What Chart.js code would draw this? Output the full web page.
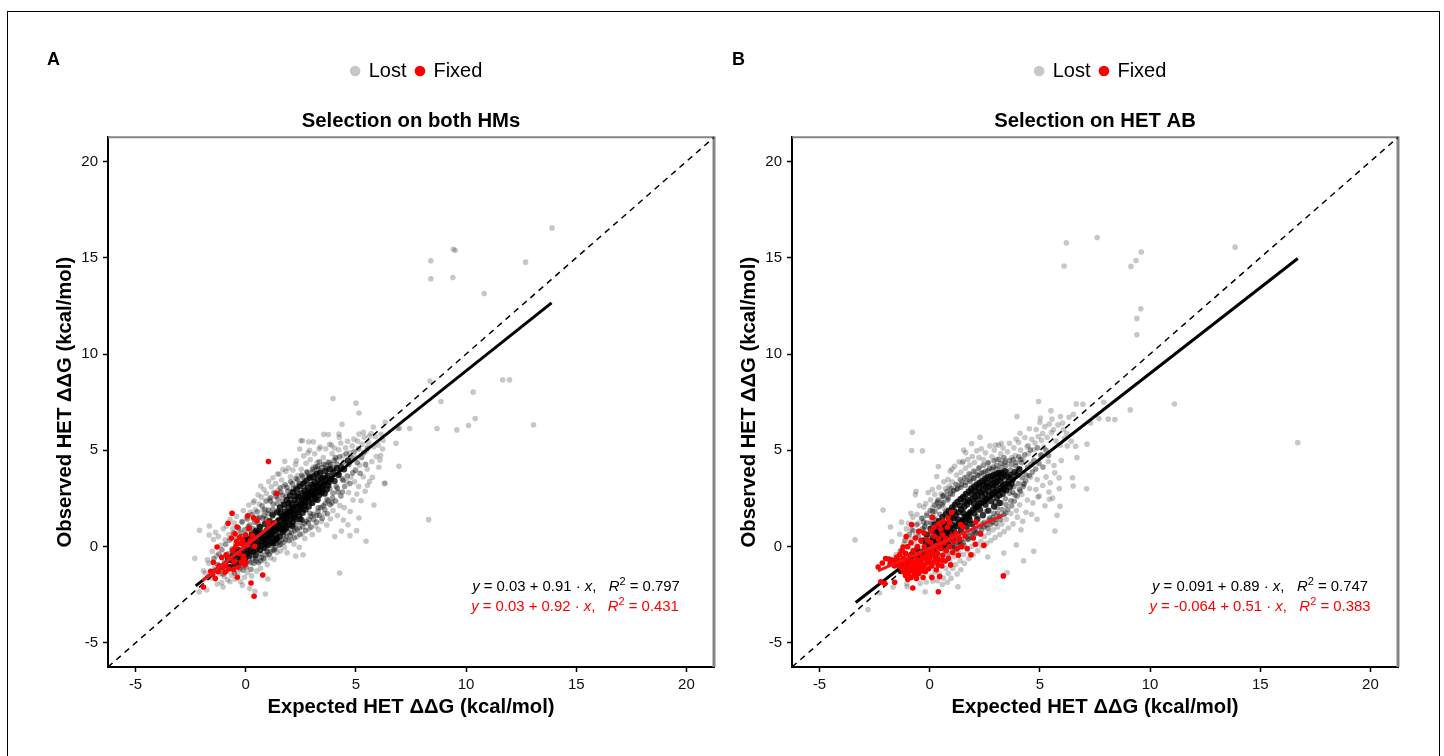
<!DOCTYPE html>
<html>
<head>
<meta charset="utf-8">
<script src="https://cdn.jsdelivr.net/npm/chart.js@4"></script>
<style>
  html, body { margin: 0; background: #fff; }
  body { width: 1444px; height: 756px; position: relative; overflow: hidden; font-family: "Liberation Sans", sans-serif; color: #000; }
  .frame { position: absolute; left: 7px; top: 11px; width: 1431px; height: 760px; border: 1px solid #000; }
  canvas { position: absolute; top: 40px; }
  #chartA { left: 50px; }
  #chartB { left: 734px; }
  .tag { position: absolute; top: 49px; font-size: 18px; font-weight: bold; }
  .eq { position: absolute; font-size: 14.9px; line-height: 16px; white-space: pre; transform: translateX(-50%); color: #000; }
  .eq.red { color: #f00; }
  .eq sup { font-size: 11px; line-height: 0; vertical-align: 6px; }
</style>
</head>
<body>
<div class="frame"></div>
<canvas id="chartA" width="674" height="680"></canvas>
<canvas id="chartB" width="674" height="680"></canvas>
<div class="tag" style="left:47px">A</div>
<div class="tag" style="left:732px">B</div>
<div class="eq" style="left:576px;top:578px"><i>y</i> = 0.03 + 0.91 · <i>x</i>,   <i>R</i><sup>2</sup> = 0.797</div>
<div class="eq red" style="left:575px;top:598px"><i>y</i> = 0.03 + 0.92 · <i>x</i>,   <i>R</i><sup>2</sup> = 0.431</div>
<div class="eq" style="left:1260px;top:578px"><i>y</i> = 0.091 + 0.89 · <i>x</i>,   <i>R</i><sup>2</sup> = 0.747</div>
<div class="eq red" style="left:1260px;top:598px"><i>y</i> = -0.064 + 0.51 · <i>x</i>,   <i>R</i><sup>2</sup> = 0.383</div>
<script>
const tickValues = [-5, 0, 5, 10, 15, 20];
const axisMin = -6.25;
const axisMax = 21.25;
const identityLine = [[-6.25, -6.25], [21.25, 21.25]];
const xTitle = "Expected HET ΔΔG (kcal/mol)";
const yTitle = "Observed HET ΔΔG (kcal/mol)";

// panel A
const fitLostA = [[-2.27, -2.04], [13.88, 12.66]];
const fitFixedA = [[-1.96, -1.77], [1.41, 1.33]];
const lostA = [
  [13.9,16.55],[9.42,15.44],[9.51,15.38],[8.4,14.84],[8.4,13.9],[9.4,13.97],[12.7,14.77],[10.82,13.14],[8.36,8.6],[11.66,8.66],[11.97,8.66],[10.32,8.02],[8.86,7.53],[10.41,6.65],[10.11,6.29],[13.06,6.32],[9.58,6.06],[8.68,6.13],[7.44,6.13],[6.91,6.13],[6.33,6.46],
  [3.96,7.69],[5,7.45],[5.14,6.94],[4.37,6.35],[5.79,6.21],[6.97,6.15],[3.54,5.83],[3.75,5.82],[4.23,5.85],[4.25,5.68],[2.5,5.5],[2.58,5.5],[2.86,5.44],[3.07,5.44],[2.45,5.07],[2.9,5],[3.33,5.07],[3.89,5.28],[5.34,5.94],[5.14,5.85],[5.6,5.73],[6.95,4.17],[6.82,5.37],[6.21,5.07],[6.12,4.73],[6.09,4.5],[1.77,4.43],[2.3,4.45],[1.44,3.77],[1.69,4],[0.68,3.15],[6.3,3.27],[6.32,3.3],[5.75,3.6],[5.52,3.17],[5.82,2.16],[5.14,1.49],[4.64,1.13],[5.03,0.83],[4.73,0.57],[5.46,0.28],[8.3,1.4],[4.26,-1.37],[2.6,-0.42],[2.27,-0.49],[0.35,2.29],[-2.1,0.85],[-1.65,1.07],[-1.66,0.6],[-2.31,-0.6],[-1.92,-1.25],[-1.74,-0.68],[-2.11,-2.35],[-1.77,-2.25],[-1.03,-2.1],[-0.15,-2],[0.18,-2.18],[0.42,-2.32],[0.89,-2.46],[1,-1.68],[-0.71,-1.82],
  [-1.83,-1.37],[-1.68,-0.86],[-1.57,-1.63],[-1.52,-0.24],[-1.46,0.37],[-1.41,-1.08],[-1.37,0.74],[-1.33,-0.47],[-1.29,-1.94],[-1.24,0.52],[-1.18,-1.41],[-1.13,0.08],[-1.09,-1.87],[-1.02,0.93],[-0.97,-1.56],[-0.93,0.36],[-0.88,1.07],[-0.82,-1.72],[-0.76,0.63],[-0.71,1.42],[-0.64,-1.48],[-0.58,0.94],[-0.53,1.23],[-0.47,-1.69],[-0.42,1.58],[-0.36,-1.38],[-0.29,0.91],[-0.23,-1.81],[-0.18,1.31],[-0.11,1.87],[-0.06,-1.59],[0.03,1.52],[0.08,-1.36],[0.14,2.16],[0.21,1.79],[0.27,-1.52],[0.33,1.43],[0.38,2.38],[0.44,1.92],[0.49,-1.27],[0.56,2.69],[0.61,2.21],[0.67,-1.12],[0.72,2.57],[0.78,1.88],[0.83,2.97],[0.86,-0.73],[0.94,2.76],[0.98,-0.94],[1.04,3.38],[1.07,2.47],[1.12,-0.58],[1.16,3.11],[1.23,3.58],[1.27,2.82],[1.29,-0.66],[1.36,3.27],[1.41,-0.31],[1.47,2.93],[1.52,3.77],[1.58,-0.23],[1.63,3.46],[1.71,3.12],[1.76,-0.04],[1.82,3.91],[1.88,-0.32],[1.93,4.08],[2.03,3.63],[2.07,0.37],[2.14,3.98],[2.19,0.13],[2.26,4.27],[2.33,0.52],[2.37,3.69],[2.43,-0.03],[2.52,4.02],[2.57,0.68],[2.63,4.71],[2.68,0.42],[2.74,4.33],[2.82,4.87],[2.87,0.91],[2.93,4.52],[3.02,0.63],[3.06,4.13],[3.13,4.82],[3.18,1.07],[3.24,4.36],[3.31,0.88],[3.38,5.17],[3.43,1.31],[3.52,4.62],[3.57,1.72],[3.63,5.08],[3.68,1.12],[3.73,4.41],[3.81,5.31],[3.84,1.43],[3.92,4.83],[3.96,1.87],[4.02,5.12],[4.04,0.52],[4.12,4.53],[4.16,1.62],[4.22,5.03],[4.27,2.13],[4.31,5.38],[4.34,0.81],[4.41,4.72],[4.43,1.38],[4.47,2.02],[4.53,5.13],[4.58,3.38],[4.62,5.47],[4.67,2.81],[4.71,4.88],[4.74,1.82],[4.78,3.62],[4.83,5.23],[4.87,2.42],[4.91,5.58],[4.94,3.37],[5.02,4.62],[5.04,2.73],[5.08,5.48],[5.13,3.12],[5.17,4.23],[5.23,2.38],[5.28,5.31],[5.33,3.63],[5.38,5.68],[5.42,2.87],[5.47,4.98],[5.51,4.03],[5.58,5.41],[5.62,3.38],[5.69,5.87],[5.72,4.42],[5.81,5.18],[5.88,5.72],[5.92,4.68],[6.02,5.28],[6.04,4.12],[6.14,5.83],[6.23,5.52]
];
const lostMidA = [
  [-1.52,-1.31],[-1.44,-0.62],[-1.38,-1.22],[-1.27,-0.93],[-1.22,-0.38],[-1.16,-1.17],[-1.08,-0.16],[-1.03,-1.42],[-0.96,-0.82],[-0.91,0.12],[-0.86,-1.28],[-0.79,-0.37],[-0.73,0.34],[-0.68,-1.04],[-0.62,-0.12],[-0.56,0.71],[-0.51,-1.37],[-0.44,0.18],[-0.39,-0.92],[-0.33,0.97],[-0.27,-1.14],[-0.21,0.52],[-0.16,1.28],[-0.12,-1.23],[-0.04,0.87],[0.02,-1.07],[0.07,1.44],[0.13,-0.74],[0.18,1.12],[0.24,-1.18],[0.29,1.66],[0.36,-0.86],[0.41,1.27],[0.46,-0.63],[0.52,1.81],[0.58,-0.84],[0.63,1.52],[0.69,-0.37],[0.74,2.12],[0.81,-0.61],[0.84,1.63],[0.92,2.37],[0.96,-0.17],[1.03,1.88],[1.06,-0.41],[1.13,2.54],[1.18,0.08],[1.24,2.21],[1.31,-0.16],[1.34,2.78],[1.39,0.18],[1.46,2.48],[1.53,0.07],[1.57,3.06],[1.62,0.36],[1.67,2.67],[1.73,0.23],[1.79,3.21],[1.84,0.52],[1.91,2.88],[1.97,0.31],[2.04,3.37],[2.09,0.72],[2.16,3.02],[2.21,0.46],[2.28,3.54],[2.34,0.88],[2.39,3.18],[2.46,0.63],[2.54,3.71],[2.59,1.03],[2.64,3.32],[2.72,0.84],[2.77,3.88],[2.84,1.22],[2.89,3.56],[2.96,1.02],[3.03,4.02],[3.08,1.41],[3.14,3.72],[3.21,1.28],[3.27,4.17],[3.34,1.63],[3.41,3.91],[3.47,1.47],[3.53,4.28],[3.59,1.93],[3.66,4.06],[3.71,1.71],[3.78,4.36],[3.83,2.18],[3.89,4.12],[3.94,2.52],[4.01,4.47],[4.08,2.37],[4.14,4.27],[4.19,2.84],[4.26,4.67],[4.32,2.63],[4.38,3.52],[4.44,4.38],[4.49,3.12],[4.56,4.82],[4.61,3.67],[4.68,4.27],[4.73,3.28],[4.81,4.63],[4.86,3.83],[4.92,4.92],[4.98,3.97],[5.06,4.37],[5.12,5.08],[5.19,3.81],[5.26,4.63],[5.36,4.88],[5.44,4.27],[5.53,5.12],[-0.34,-0.47],[-0.08,-0.31],[0.17,0.87],[0.31,0.42],[0.43,-0.17],[0.57,0.81],[0.68,1.02],[0.82,0.14],[0.93,1.43],[1.09,0.27],[1.21,1.57],[1.33,0.42],[1.48,1.88],[1.61,0.71],[1.77,2.17],[1.92,0.96],[2.06,2.48],[2.24,1.12],[2.41,2.73],[2.57,1.37],[2.73,2.96],[2.92,1.73],[3.11,3.23],[3.29,2.02],[3.48,3.37],[3.69,2.46],[3.87,3.47],[4.11,3.12],[4.24,3.78],[4.42,3.43],[1.17,0.61],[1.74,1.24],[2.17,1.67],[2.62,1.92],[3.01,2.31],[3.44,2.73],[3.81,3.02],[0.76,0.43],[0.36,0.11],[0.03,-0.23],
  [0.11,1.03],[0.32,0.94],[0.57,1.18],[0.78,1.47],[1.01,1.72],[1.23,1.94],[1.43,2.23],[1.66,2.37],[1.83,2.61],[2.06,2.84],[2.27,3.07],[2.44,3.28],[2.67,3.41],[2.85,3.67],[3.04,3.88],[3.26,4.03],[3.45,4.11],[3.64,4.23],[3.86,4.27],[4.07,4.63],[0.22,-0.84],[0.46,-0.74],[0.71,-0.57],[0.92,-0.43],[1.14,-0.27],[1.35,-0.06],[1.59,0.13],[1.81,0.37],[2.01,0.58],[2.22,0.82],[2.43,0.97],[2.65,1.21],[2.87,1.42],[3.07,1.68],[3.28,1.84],[3.52,2.12],[3.74,2.37],[3.96,2.78],[4.16,3.03],[4.39,2.84],[-0.63,-0.74],[-0.42,0.42],[-0.22,0.72],[-0.13,-0.98],[0.32,-0.62],[0.53,1.47],[0.87,1.92],[1.12,2.37],[1.37,2.62],[1.59,2.83],[1.88,3.07],[2.12,3.27],[2.36,3.46],[2.59,3.62],[2.81,3.83],[3.17,4.13],[3.34,4.41],[0.67,-0.73],[0.98,-0.27],[1.24,-0.18],[1.49,0.24],[1.72,0.62],[1.96,0.74],[2.18,0.98],[2.46,1.27],[2.74,1.31],[2.97,1.58],[3.22,1.62],[3.41,2.03],[3.61,2.24],[3.91,2.27]
];
const lostCoreA = [
  [-0.92,-0.97],[-0.81,-0.58],[-0.74,-1.07],[-0.66,-0.71],[-0.57,-0.43],[-0.49,-0.92],[-0.41,-0.57],[-0.31,-0.18],[-0.26,-0.83],[-0.17,-0.36],[-0.09,0.13],[-0.03,-0.62],[0.06,-0.14],[0.12,0.41],[0.16,-0.47],[0.23,0.07],[0.28,0.63],[0.34,-0.27],[0.39,0.26],[0.45,-0.43],[0.48,0.83],[0.54,0.03],[0.59,0.47],[0.64,1.02],[0.66,-0.18],[0.71,0.26],[0.77,0.72],[0.83,-0.06],[0.87,1.18],[0.91,0.41],[0.97,0.87],[1.01,0.08],[1.08,1.32],[1.11,0.57],[1.14,1.02],[1.19,0.24],[1.22,1.66],[1.26,0.78],[1.32,1.21],[1.37,0.36],[1.42,1.78],[1.44,0.93],[1.49,1.37],[1.54,0.52],[1.56,2.03],[1.59,1.12],[1.64,1.58],[1.69,0.77],[1.72,2.18],[1.74,1.31],[1.78,1.82],[1.83,0.98],[1.86,2.42],[1.89,1.47],[1.94,2.02],[1.98,1.14],[2.01,2.63],[2.05,1.63],[2.08,2.21],[2.12,1.27],[2.15,2.82],[2.18,1.88],[2.22,2.42],[2.27,1.42],[2.31,2.97],[2.35,2.07],[2.38,2.58],[2.42,1.58],[2.47,3.13],[2.51,2.21],[2.53,2.77],[2.58,1.76],[2.61,3.27],[2.65,2.38],[2.67,2.92],[2.71,1.93],[2.76,3.42],[2.79,2.57],[2.83,3.08],[2.86,2.08],[2.91,3.58],[2.94,2.72],[2.98,3.21],[3.02,2.27],[3.05,3.63],[3.09,2.87],[3.12,3.36],[3.16,2.47],[3.22,3.77],[3.25,3.03],[3.28,3.48],[3.32,2.66],[3.37,3.82],[3.42,3.12],[3.46,2.83],[3.51,3.58],[3.56,3.23],[3.61,3.93],[3.67,2.97],[3.72,3.68],[3.77,3.34],[3.82,4.02],[3.88,3.52],[3.97,3.82],[4.03,3.41],[4.13,4.07],[4.21,3.72],[4.33,4.12],[4.46,4.02],[4.64,4.47],[0.04,0.31],[0.22,-0.21],[0.37,0.58],[0.52,0.18],[0.62,0.69],[0.73,0.04],[0.86,0.56],[0.99,0.34],[1.06,0.82],[1.17,0.46],[1.28,1.03],[1.39,0.63],[1.47,1.13],[1.61,0.89],[1.71,1.47],[1.81,1.23],[1.93,1.72],[2.02,1.41],[2.13,1.97],[2.23,1.68],[2.33,2.26],[2.44,1.92],[2.56,2.48],[2.66,2.12],[2.78,2.73],[2.88,2.37],[3,2.91],[3.11,2.58],[3.23,3.17],[3.35,2.88],[3.49,3.02],[3.62,3.47],[3.74,3.18],[0.44,0.74],[0.69,0.51],[0.92,0.13],[1.13,0.72],[1.34,0.86],[1.52,1.02],[1.68,1.08],[1.87,1.58],[2.03,1.83],[2.19,1.52],[2.36,1.78],[2.52,2.06],[2.69,2.28],[2.84,2.52],[3.03,2.68],[3.19,2.79],[3.38,3.27],[-0.47,-0.12],[-0.21,-0.58],[-0.02,0.37],[0.09,-0.38],[0.26,0.34],[0.49,-0.13],[0.79,0.32],[1.04,0.58],[1.25,0.17],[1.41,0.42],[1.58,1.73],[1.76,0.89],[1.96,2.27],[2.11,1.08],[2.29,2.63],[2.49,1.43],[2.68,2.67],[2.87,2.83],[3.07,3.11],[3.26,2.43],[3.43,3.53],[3.58,2.76]
];
const fixedA = [
  [1.03,4.42],[1.42,2.75],[-0.62,1.73],[0.09,1.6],[0.36,1.5],[-0.8,1.21],[0.51,1.35],[1.01,1.26],[-0.39,1.02],[0.14,0.95],[0,0.62],[-0.48,0.67],[-0.65,0.45],[-0.27,0.49],[0.3,0.57],[-1.3,-0.02],[-0.07,0.14],[0.41,0.02],[0.08,0.09],[-0.41,0.26],[-0.89,-0.42],[-0.1,-0.5],[-1.09,-0.56],[-0.53,-0.78],[-0.04,-0.94],[-1.47,-0.81],[-0.35,-1.07],[-1.59,-1.28],[-0.94,-1.32],[-0.76,-1.16],[-1.21,-0.99],[-0.38,-1.59],[-1.38,-1.66],[-1.92,-2.1],[0.24,-1.89],[0.77,-1.47],[0.38,-2.58],[-0.08,-0.65],[0,-0.85],[-0.6,-0.2],[-0.25,0.15],[-0.75,-0.6],[-0.3,-0.35],[-0.9,-0.95],[-1.05,-1.1],[-0.55,-1.2],[-0.2,-0.8],[-0.15,0.35],[-0.45,0],[0.2,0.3],[-1.25,-1.3],[-1.5,-1.45]
];

// panel B
const fitLostB = [[-3.36, -2.9], [16.7, 14.96]];
const fitFixedB = [[-2.34, -1.26], [3.34, 1.64]];
const lostB = [
  [13.86,15.55],[9.6,15.3],[9.36,14.85],[9.13,14.55],[6.2,15.77],[7.6,16.05],[6.1,14.57],[9.58,12.35],[9.4,11.85],[9.4,11],[11.1,7.4],[9.1,7.1],[16.7,5.4],[7.9,7.5],[8.4,6.6],[8.1,6.62],
  [4.94,7.53],[3.96,6.75],[6.65,7.41],[6.95,7.39],[5.5,7.06],[5.55,6.63],[5.93,6.75],[5,6.46],[7.68,6.65],[7.3,6.42],[-0.79,5.94],[-0.82,4.99],[-0.33,4.97],[4.1,5.89],[3.92,5.59],[4.47,5.25],[2.28,5.68],[1.9,5.35],[1.54,5.02],[1.63,4.88],[2.98,5.28],[3.25,5.37],[7.14,5.32],[6.62,5.21],[6.68,4.62],[6.24,5.23],[1.48,4.35],[0.39,4.16],[1.01,4.03],[0.32,3.64],[6.48,3.58],[6.51,3.15],[7.12,3],[5.87,3.57],[5.64,4.21],[-0.62,2.87],[-0.65,2.7],[-2.12,1.9],[-0.86,1.73],[-0.27,2.06],[-1.78,1.02],[-3.39,0.35],[5.91,2.1],[5.43,2.46],[4.91,2.58],[5.68,0.81],[4.72,-0.24],[4.26,-0.74],[3.51,-1.35],[2.63,-0.54],[3.93,0.09],[3.36,-0.33],[-2.8,-3.27],[-0.21,-2.35],[1.28,-2.08],[0.57,-1.96],[0.8,-1.85],[0.35,-1.77],[1.41,-1.2],[-2.28,-2.41],[-1.66,-2.1],[-1.03,-2.08],
  [-1.72,0.27],[-1.53,-0.41],[-1.36,0.64],[-1.28,1.27],[-1.17,0.13],[-1.06,0.92],[-0.97,1.21],[-1.04,-1.93],[-0.88,0.42],[-0.77,1.53],[-0.83,0.87],[-0.69,0.16],[-0.58,1.68],[-0.63,0.62],[-0.47,2.13],[-0.52,1.22],[-0.38,0.34],[-0.43,-1.92],[-0.31,1.47],[-0.26,0.83],[-0.18,2.24],[-0.22,1.08],[-0.16,-1.84],[-0.07,2.81],[-0.12,1.72],[0.04,2.43],[0.03,1.28],[0.07,-1.53],[0.12,2.97],[0.14,2.03],[0.13,-1.78],[0.23,2.71],[0.18,1.57],[0.24,-1.31],[0.31,2.27],[0.28,1.42],[0.42,3.08],[0.37,2.04],[0.44,-1.43],[0.52,2.73],[0.47,-0.92],[0.64,3.37],[0.57,2.42],[0.61,-1.63],[0.72,3.02],[0.67,1.97],[0.73,-1.12],[0.83,3.48],[0.78,2.61],[0.84,-1.38],[0.93,3.92],[0.88,3.13],[0.91,-0.73],[1.02,3.37],[1.04,-1.13],[0.97,-1.64],[1.13,4.17],[1.07,2.93],[1.12,-0.52],[1.22,3.72],[1.18,-0.93],[1.24,-1.42],[1.33,4.41],[1.28,3.17],[1.31,-0.32],[1.42,3.87],[1.38,-0.73],[1.52,4.43],[1.46,3.38],[1.53,-0.41],[1.62,4.07],[1.58,-0.87],[1.73,4.52],[1.67,3.62],[1.71,-0.17],[1.82,4.23],[1.78,-0.62],[1.93,4.68],[1.87,3.73],[1.91,0.02],[2.03,4.37],[1.97,-0.43],[2.13,4.97],[2.08,3.87],[2.12,0.13],[2.23,4.62],[2.18,-0.22],[2.34,5.08],[2.27,4.12],[2.32,0.28],[2.43,4.52],[2.37,0.03],[2.53,4.87],[2.48,0.53],[2.62,4.32],[2.58,0.17],[2.73,5.23],[2.68,0.72],[2.82,4.67],[2.78,0.32],[2.93,5.02],[2.87,0.87],[3.03,4.53],[2.97,0.47],[3.13,5.28],[3.07,1.02],[3.22,4.82],[3.18,0.63],[3.33,5.12],[3.27,1.18],[3.42,4.47],[3.38,0.78],[3.53,4.93],[3.47,1.42],[3.62,5.37],[3.57,0.97],[3.73,4.62],[3.68,1.72],[3.82,5.13],[3.78,1.18],[3.88,4.73],[3.93,1.87],[4.03,5.42],[3.98,1.53],[4.12,5.02],[4.08,2.17],[4.14,0.88],[4.23,4.52],[4.18,2.72],[4.22,1.32],[4.32,5.67],[4.28,3.23],[4.42,5.18],[4.37,1.78],[4.43,2.42],[4.52,6.12],[4.48,4.83],[4.53,3.02],[4.63,5.57],[4.58,3.62],[4.62,1.68],[4.72,5.03],[4.68,2.27],[4.83,6.08],[4.78,5.38],[4.82,2.97],[4.92,5.72],[4.88,3.48],[4.87,1.42],[5.03,4.72],[4.97,2.63],[5.02,6.68],[5.12,5.87],[5.07,5.52],[5.13,3.17],[5.22,6.23],[5.18,5.17],[5.23,2.12],[5.33,5.68],[5.28,3.62],[5.42,6.37],[5.38,4.42],[5.41,2.83],[5.52,5.92],[5.47,3.32],[5.62,6.07],[5.58,2.52],[5.73,5.48],[5.67,3.83],[5.82,6.32],[5.78,1.63],[5.92,5.27],[5.88,3.02],[6.03,6.42],[5.97,4.47],[6.12,5.63],[6.07,6.08],[6.22,5.87],[6.32,6.72],[6.42,5.47],[6.52,6.87]
];
const lostMidB = [
  [-1.42,-0.93],[-1.33,-0.22],[-1.19,-1.24],[-1.12,0.32],[-1.01,-0.47],[-0.93,0.64],[-0.84,-1.02],[-0.76,0.84],[-0.67,-0.37],[-0.59,1.13],[-0.53,-0.82],[-0.46,0.78],[-0.37,1.47],[-0.28,-0.42],[-0.23,1.02],[-0.14,1.63],[-0.06,-0.66],[0.02,1.87],[0.09,1.21],[0.16,-0.73],[0.21,2.16],[0.27,1.37],[0.33,-0.54],[0.38,2.42],[0.46,1.68],[0.51,-0.47],[0.56,2.18],[0.63,2.67],[0.68,-0.23],[0.74,1.83],[0.81,2.42],[0.86,-0.36],[0.94,2.76],[0.98,1.93],[1.03,-0.09],[1.09,2.91],[1.16,2.27],[1.21,-0.14],[1.27,3.02],[1.34,2.43],[1.39,0.13],[1.44,3.21],[1.51,2.58],[1.56,0.06],[1.63,3.33],[1.68,2.74],[1.74,0.37],[1.81,3.48],[1.86,2.88],[1.92,0.46],[1.99,3.57],[2.04,2.97],[2.09,0.68],[2.16,3.72],[2.21,3.13],[2.28,0.71],[2.33,3.82],[2.41,3.21],[2.46,1.03],[2.52,3.91],[2.57,3.37],[2.64,0.96],[2.71,4.07],[2.76,3.48],[2.83,1.27],[2.88,4.13],[2.94,3.56],[2.99,1.42],[3.04,4.21],[3.11,3.68],[3.16,1.58],[3.23,4.33],[3.29,3.77],[3.36,1.67],[3.41,4.37],[3.48,3.88],[3.54,1.93],[3.61,4.47],[3.67,3.97],[3.72,2.12],[3.79,4.52],[3.84,2.37],[3.91,4.18],[3.97,2.63],[4.04,4.67],[4.11,2.87],[4.17,4.37],[4.24,3.12],[4.31,4.77],[4.36,3.42],[4.44,4.12],[4.51,3.68],[4.57,5.02],[4.66,3.87],[4.73,4.47],[4.81,4.03],[4.89,5.13],[4.96,4.32],[5.06,4.77],[5.14,4.13],[5.27,5.02],[5.39,4.73],[-0.71,-0.62],[-0.44,-0.28],[-0.19,0.42],[0.06,0.72],[0.31,-0.12],[0.49,1.07],[0.66,0.23],[0.83,0.62],[1.01,0.02],[1.18,1.37],[1.36,0.28],[1.53,1.62],[1.69,0.52],[1.84,1.82],[2.01,0.83],[2.19,2.23],[2.37,1.17],[2.54,2.36],[2.73,1.48],[2.91,1.73],[3.06,2.02],[3.24,2.27],[3.43,2.48],[3.63,2.77],[3.82,3.12],[4.02,3.27],[4.19,3.58],[4.38,3.72],[4.61,4.27],[0.41,0.37],[0.89,0.92],[1.31,1.14],[1.72,1.37],[2.13,1.58],[2.56,1.82],[2.97,2.27],[3.38,3.13],[3.77,2.82],
  [-0.52,0.52],[-0.33,0.93],[-0.14,1.23],[0.07,1.53],[0.24,1.82],[0.43,2.08],[0.61,2.27],[0.84,2.53],[1.03,2.72],[1.22,2.97],[1.41,3.08],[1.62,3.17],[1.83,3.38],[2.01,3.53],[2.23,3.68],[2.42,3.83],[2.64,3.94],[2.84,4.02],[3.06,4.03],[3.27,4.12],[3.46,4.21],[3.71,4.27],[3.92,4.37],[4.13,4.53],[-0.87,-0.63],[-0.62,-0.42],[-0.42,-0.23],[-0.18,-0.13],[0.04,-0.36],[0.26,-0.27],[0.47,-0.08],[0.68,0.08],[0.87,0.27],[1.07,0.14],[1.26,0.23],[1.46,0.37],[1.68,0.68],[1.88,0.72],[2.07,0.93],[2.27,1.03],[2.48,1.26],[2.69,1.38],[2.88,1.52],[3.08,1.73],[3.28,1.93],[3.47,2.17],[3.68,2.38],[3.87,2.68],[4.07,2.97],[4.27,3.27],[-0.27,1.27],[0.13,1.83],[0.36,2.32],[0.58,2.62],[0.79,2.87],[0.97,3.03],[1.19,3.23],[1.39,3.47],[1.59,3.57],[1.79,3.78],[2,3.92],[2.22,4.07],[2.44,4.23],[2.66,4.37],[2.92,4.46],[3.14,4.54],[3.37,4.63],[1.13,-0.02],[1.32,0.08],[1.52,0.22],[1.73,0.41],[1.93,0.57],[2.14,0.72],[2.36,0.87],[2.57,1.12],[2.78,1.17],[3.01,1.22],[3.21,1.41],[3.44,1.74]
];
const lostCoreB = [
  [-1.31,-1.27],[-1.13,-0.83],[-0.96,-1.02],[-0.82,-0.41],[-0.71,-0.93],[-0.57,-0.12],[-0.48,-0.64],[-0.34,0.31],[-0.24,-0.37],[-0.13,0.62],[-0.07,-0.08],[0.04,0.93],[0.11,0.28],[0.17,-0.22],[0.22,1.14],[0.29,0.58],[0.36,0.07],[0.42,1.32],[0.47,0.77],[0.53,0.21],[0.58,1.53],[0.62,0.94],[0.69,0.39],[0.73,1.68],[0.79,1.13],[0.84,0.57],[0.87,1.87],[0.92,1.34],[0.96,0.73],[1.02,2.04],[1.06,1.48],[1.09,0.91],[1.14,2.17],[1.17,1.63],[1.23,1.07],[1.26,2.32],[1.31,1.78],[1.35,1.22],[1.41,2.47],[1.43,1.93],[1.48,1.36],[1.52,2.58],[1.57,2.07],[1.61,1.52],[1.64,2.73],[1.69,2.19],[1.73,1.66],[1.77,2.87],[1.82,2.33],[1.84,1.78],[1.89,3.02],[1.94,2.47],[1.97,1.93],[2.02,3.12],[2.06,2.58],[2.09,2.03],[2.14,3.23],[2.18,2.71],[2.22,2.13],[2.26,3.32],[2.31,2.83],[2.34,2.27],[2.38,3.41],[2.42,2.94],[2.47,2.37],[2.51,3.53],[2.55,3.07],[2.58,2.48],[2.63,3.62],[2.67,3.13],[2.72,2.62],[2.77,3.66],[2.81,3.21],[2.84,2.72],[2.89,3.72],[2.93,3.31],[2.97,2.83],[3.02,3.78],[3.06,3.37],[3.09,2.91],[3.14,3.82],[3.19,3.43],[3.24,3.03],[3.28,3.58],[3.33,3.18],[3.39,3.71],[3.44,3.27],[3.52,3.63],[3.58,3.38],[3.68,3.72],[3.76,3.47],[3.86,3.87],[3.96,3.72],[4.07,4.02],[0.14,0.46],[0.37,0.92],[0.52,0.47],[0.67,1.22],[0.77,0.69],[0.91,0.48],[1.04,1.12],[1.16,0.67],[1.29,1.41],[1.42,0.84],[1.54,1.74],[1.67,1.03],[1.79,1.57],[1.92,1.17],[2.03,1.73],[2.16,1.43],[2.28,1.92],[2.41,1.63],[2.53,2.18],[2.66,1.87],[2.79,2.36],[2.92,2.08],[3.04,2.53],[3.17,2.27],[3.31,2.74],[3.47,2.93],[3.63,3.08],[3.71,3.27],[0.62,-0.03],[0.83,0.12],[1.08,0.38],[1.27,0.62],[1.46,1.07],[1.63,1.27],[1.81,1.37],[2.01,2.23],[2.19,2.42],[2.36,2.63],[2.52,2.74],[2.68,2.88],[2.87,3.03],[3.01,3.17],[3.16,2.67],[3.36,2.97],[-0.17,0.21],[0.08,-0.03],[0.26,0.76],[0.44,0.12],[0.72,0.93],[0.94,1.57],[1.12,1.84],[1.37,2.13],[1.58,2.33],[1.74,2.42],[1.91,2.73],[2.07,2.88],[2.24,3.03],[2.44,3.22],[2.61,3.31],[2.83,3.47],[3.08,3.58],[3.26,3.84],[3.42,3.92]
];
const fixedB = [
  [3.34,-1.52],[0.39,-2.34],[-0.77,-2.15],[-1.59,-1.85],[-2.04,-1.92],[-2.22,-1.82],[-2.34,-1.06],[-2.15,-0.85],[-2,-0.62],[-0.82,1.14],[0.12,1.52],[0.83,1.5],[1,1.78],[0.41,1.18],[0.5,0.9],[1.51,1.02],[2.09,1.26],[2.31,0.66],[2.46,0.07],[2.07,0.12],[1.87,-0.42],[1.3,-0.45],[1.98,0.45],[-1.07,0.52],[-0.5,0.8],[-0.26,0.71],[0.06,0.8],[-1.21,-0.02],
  [-1.85,-0.65],[-1.8,-0.9],[-1.7,-0.7],[-1.6,-1],[-1.55,-0.75],[-1.5,-0.55],[-1.45,-0.95],[-1.4,-0.7],[-1.35,-0.4],[-1.3,-1.1],[-1.3,-0.8],[-1.25,-0.2],[-1.2,-1.3],[-1.2,-0.6],[-1.15,-0.9],[-1.1,-1.5],[-1.1,-0.35],[-1.05,-1.2],[-1,-0.7],[-1,-1.7],[-1,0],[-0.95,-1.4],[-0.9,-0.45],[-0.9,-1],[-0.85,-1.6],[-0.85,0.2],[-0.8,-0.75],[-0.8,-1.25],[-0.75,-0.2],[-0.7,-1.5],[-0.7,-0.95],[-0.65,-0.5],[-0.65,0.45],[-0.6,-1.2],[-0.6,-1.65],[-0.55,-0.7],[-0.55,0],[-0.5,-1],[-0.5,-1.4],[-0.45,-0.35],[-0.4,-0.85],[-0.4,0.3],[-0.35,-1.25],[-0.3,-0.55],[-0.3,-1.6],[-0.25,0],[-0.2,-0.9],[-0.2,-1.3],[-0.15,-0.4],[-0.1,0.35],[-0.1,-0.75],[-0.05,-1.15],[0,-0.25],[0,-0.6],[0.05,0.2],[0.1,-1],[0.1,-1.6],[0.15,-0.45],[0.2,0.55],[0.2,-0.8],[0.25,0],[0.3,-1.2],[0.35,-0.35],[0.4,0.4],[0.4,-0.7],[0.45,-1.55],[0.5,-0.1],[0.55,-1],[0.6,0.6],[0.6,-0.45],[0.65,0.2],[0.7,-0.75],[0.75,-0.2],[0.8,1],[0.8,0.35],[0.85,-0.6],[0.9,0],[0.95,-0.95],[1,0.55],[1.05,-0.3],[1.1,0.25],[1.2,0.7],[1.25,-0.1],[1.35,0.4],[1.4,1.15],[1.45,0],[1.6,0.55],[1.7,-0.1],[0.6,1.3],[0.2,1],[0.9,1.25],
  [-1.32,-0.97],[-1.18,-0.74],[-1.07,-1.03],[-0.97,-1.28],[-0.87,-0.82],[-0.76,-1.08],[-0.68,-1.36],[-0.58,-0.93],[-0.47,-1.17],[-0.37,-0.68],[-0.27,-1.07],[-0.17,-0.62],[-0.06,-0.43],[0.03,-0.87],[0.13,-0.17],[0.27,-0.58],[0.38,-0.96],[0.48,0.14],[0.58,-0.72],[0.73,0.42]
];

const pts = (list) => list.map(([x, y]) => ({ x, y }));

// gray top and right edges of the panel, legend nudged off the plot centre
const panelEdges = {
  id: "panelEdges",
  afterLayout(chart) {
    chart.legend.left += 6;
    chart.legend.right += 6;
    chart.legend.top += 1;
    chart.legend.bottom += 1;
  },
  beforeDatasetsDraw(chart) {
    const { ctx, chartArea: a } = chart;
    ctx.save();
    ctx.strokeStyle = "#858585";
    ctx.lineWidth = 2;
    ctx.beginPath();
    ctx.moveTo(a.left, a.top);
    ctx.lineTo(a.right, a.top);
    ctx.stroke();
    ctx.lineWidth = 3;
    ctx.beginPath();
    ctx.moveTo(a.right, a.top - 1);
    ctx.lineTo(a.right, a.bottom);
    ctx.stroke();
    ctx.restore();
  },
};

function axis(titleText, isX) {
  return {
    type: "linear",
    min: axisMin,
    max: axisMax,
    grid: { display: true, drawOnChartArea: false, drawTicks: true, tickLength: 5, tickColor: "#000", tickWidth: 1.5 },
    border: { display: true, color: "#000", width: 2 },
    afterBuildTicks: (s) => { s.ticks = tickValues.map((v) => ({ value: v })); },
    afterFit: (s) => { if (isX) s.height = 53; else s.width = 58; },
    ticks: { color: "#111", autoSkip: false, maxRotation: 0, padding: isX ? 4 : 5, font: { size: 15 } },
    title: { display: true, text: titleText, color: "#000", padding: isX ? 0 : { top: 3, bottom: 0 }, font: { size: 20.3, weight: "bold" } },
  };
}

function drawPanel(id, titleText, lost, mid, core, fixed, fitLost, fitFixed) {
  // lower order is drawn on top
  new Chart(document.getElementById(id), {
    type: "scatter",
    data: {
      datasets: [
        { label: "Lost", order: 6, data: pts(lost), backgroundColor: "rgba(0,0,0,0.22)", borderWidth: 0, pointRadius: 2.8 },
        { label: "Lost mid", order: 5, data: pts(mid), backgroundColor: "rgba(0,0,0,0.4)", borderWidth: 0, pointRadius: 2.8 },
        { label: "Lost dense", order: 4, data: pts(core), backgroundColor: "rgba(0,0,0,0.8)", borderWidth: 0, pointRadius: 3.2 },
        { label: "Identity", order: 3, data: pts(identityLine), showLine: true, pointRadius: 0, borderColor: "#000", borderWidth: 1.5, borderDash: [6, 5] },
        { label: "Lost fit", order: 2, data: pts(fitLost), showLine: true, pointRadius: 0, borderColor: "#000", borderWidth: 3 },
        { label: "Fixed", order: 1, data: pts(fixed), backgroundColor: "#f00", borderWidth: 0, pointRadius: 2.8 },
        { label: "Fixed fit", order: 0, data: pts(fitFixed), showLine: true, pointRadius: 0, borderColor: "#f3131b", borderWidth: 3 },
      ],
    },
    options: {
      responsive: false,
      animation: false,
      layout: { padding: { top: 10, right: 10, left: 0, bottom: 0 } },
      scales: { x: axis(xTitle, true), y: axis(yTitle, false) },
      plugins: {
        tooltip: { enabled: false },
        legend: {
          position: "top",
          fullSize: false,
          weight: 3000,
          labels: {
            usePointStyle: true,
            pointStyle: "circle",
            boxWidth: 7,
            boxHeight: 7.5,
            padding: 10,
            color: "#000",
            font: { size: 20 },
            filter: (item) => item.text === "Lost" || item.text === "Fixed",
            sort: (a, b) => a.datasetIndex - b.datasetIndex,
          },
        },
        title: { display: true, fullSize: false, text: titleText, color: "#000", padding: { top: 19, bottom: 4 }, font: { size: 20.3, weight: "bold" } },
      },
    },
    plugins: [panelEdges],
  });
}

drawPanel("chartA", "Selection on both HMs", lostA, lostMidA, lostCoreA, fixedA, fitLostA, fitFixedA);
drawPanel("chartB", "Selection on HET AB", lostB, lostMidB, lostCoreB, fixedB, fitLostB, fitFixedB);
</script>
</body>
</html>
